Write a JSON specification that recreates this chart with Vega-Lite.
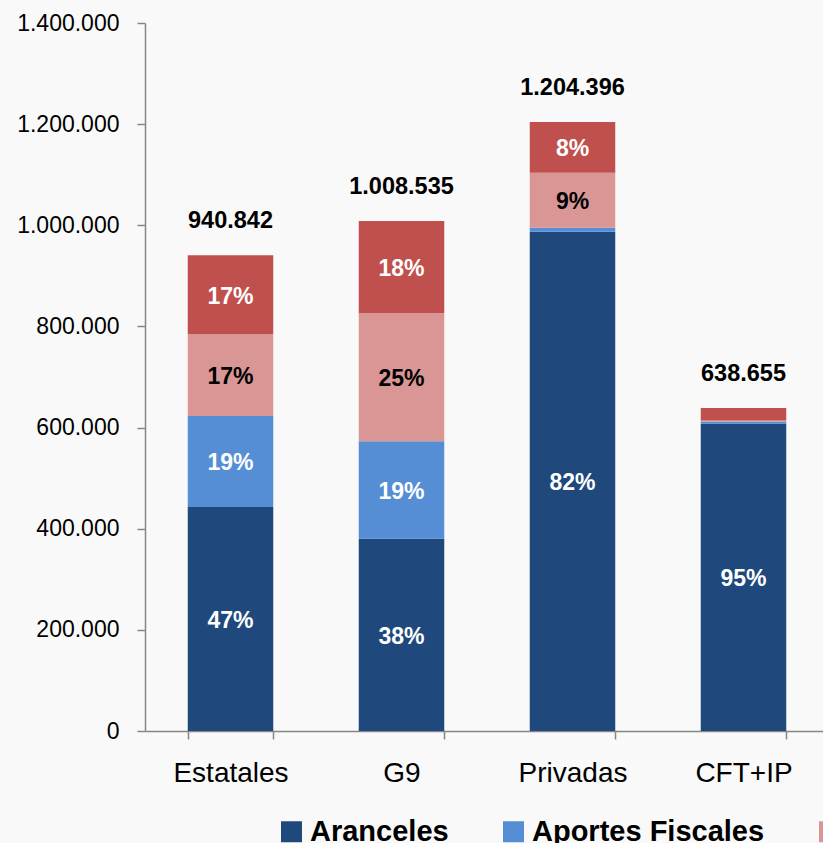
{
  "$schema": "https://vega.github.io/schema/vega-lite/v6.json",
  "usermeta": {"embedOptions": {"actions": false}},
  "width": 684,
  "height": 708,
  "autosize": {"type": "none"},
  "padding": {"left": 145, "top": 23, "right": -6, "bottom": 112},
  "background": "#f9f9f9",
  "config": {
    "view": {"stroke": null},
    "locale": {"number": {"decimal": ",", "thousands": ".", "grouping": [3], "currency": ["$", ""]}},
    "axis": {"labelFont": "Liberation Sans", "labelColor": "#000000", "domainColor": "#868686", "tickColor": "#868686", "domainWidth": 1.5, "tickWidth": 1.5, "grid": false},
    "text": {"font": "Liberation Sans"},
    "legend": {"labelFont": "Liberation Sans"}
  },
  "data": {
    "values": [
      {"category": "Estatales", "series": "Aranceles", "k": 1, "value": 443000, "pct": "47%"},
      {"category": "Estatales", "series": "Aportes Fiscales", "k": 2, "value": 180000, "pct": "19%"},
      {"category": "Estatales", "series": "Venta de Servicios", "k": 3, "value": 162000, "pct": "17%"},
      {"category": "Estatales", "series": "Otros Ingresos", "k": 4, "value": 155842, "pct": "17%"},
      {"category": "G9", "series": "Aranceles", "k": 1, "value": 380000, "pct": "38%"},
      {"category": "G9", "series": "Aportes Fiscales", "k": 2, "value": 193000, "pct": "19%"},
      {"category": "G9", "series": "Venta de Servicios", "k": 3, "value": 253000, "pct": "25%"},
      {"category": "G9", "series": "Otros Ingresos", "k": 4, "value": 182535, "pct": "18%"},
      {"category": "Privadas", "series": "Aranceles", "k": 1, "value": 987000, "pct": "82%"},
      {"category": "Privadas", "series": "Aportes Fiscales", "k": 2, "value": 8000, "pct": ""},
      {"category": "Privadas", "series": "Venta de Servicios", "k": 3, "value": 109000, "pct": "9%"},
      {"category": "Privadas", "series": "Otros Ingresos", "k": 4, "value": 100396, "pct": "8%"},
      {"category": "CFT+IP", "series": "Aranceles", "k": 1, "value": 608000, "pct": "95%"},
      {"category": "CFT+IP", "series": "Aportes Fiscales", "k": 2, "value": 4000, "pct": ""},
      {"category": "CFT+IP", "series": "Venta de Servicios", "k": 3, "value": 2000, "pct": ""},
      {"category": "CFT+IP", "series": "Otros Ingresos", "k": 4, "value": 24655, "pct": ""}
    ]
  },
  "transform": [
    {"stack": "value", "groupby": ["category"], "sort": [{"field": "k", "order": "ascending"}], "as": ["v0", "v1"]}
  ],
  "layer": [
    {
      "mark": {"type": "bar"},
      "encoding": {
        "x": {
          "field": "category", "type": "nominal", "title": null,
          "sort": ["Estatales", "G9", "Privadas", "CFT+IP"],
          "scale": {"paddingInner": 0.5, "paddingOuter": 0.25},
          "axis": {"labelAngle": 0, "labelFontSize": 28, "labelPadding": 20, "tickSize": 8, "tickBand": "extent", "labelBaseline": "top"}
        },
        "y": {
          "field": "v0", "type": "quantitative", "title": null,
          "scale": {"domain": [0, 1400000], "nice": false},
          "axis": {"values": [0, 200000, 400000, 600000, 800000, 1000000, 1200000, 1400000], "format": ",d", "labelFontSize": 23, "labelPadding": 18, "tickSize": 8}
        },
        "y2": {"field": "v1"},
        "color": {
          "field": "series", "type": "nominal",
          "scale": {"domain": ["Aranceles", "Aportes Fiscales", "Venta de Servicios", "Otros Ingresos"], "range": ["#1f497d", "#558ed5", "#d99694", "#c0504d"]},
          "legend": {"title": null, "orient": "none", "legendX": 132, "legendY": 794, "direction": "horizontal", "symbolType": "square", "symbolSize": 441, "symbolStrokeWidth": 0, "labelFontSize": 29, "labelFontWeight": "bold", "labelColor": "#000000", "labelOffset": 4, "columnPadding": 50, "padding": 0, "labelLimit": 0}
        }
      }
    },
    {
      "transform": [
        {"filter": "datum.pct != ''"},
        {"fold": ["v0", "v1"], "as": ["edge", "pos"]}
      ],
      "mark": {"type": "text", "fontSize": 23, "fontWeight": "bold", "baseline": "middle", "dy": 2},
      "encoding": {
        "x": {"field": "category", "type": "nominal", "title": null, "sort": ["Estatales", "G9", "Privadas", "CFT+IP"]},
        "y": {"aggregate": "mean", "field": "pos", "type": "quantitative", "stack": null, "title": null},
        "detail": {"field": "series", "type": "nominal"},
        "text": {"field": "pct", "type": "nominal"},
        "color": {"condition": {"test": "datum.series === 'Venta de Servicios'", "value": "#000000"}, "value": "#ffffff"}
      }
    },
    {
      "mark": {"type": "text", "fontSize": 23.5, "fontWeight": "bold", "baseline": "middle", "dy": -34, "color": "#000000"},
      "encoding": {
        "x": {"field": "category", "type": "nominal", "title": null, "sort": ["Estatales", "G9", "Privadas", "CFT+IP"]},
        "y": {"aggregate": "sum", "field": "value", "type": "quantitative", "stack": null, "title": null},
        "text": {"aggregate": "sum", "field": "value", "type": "quantitative", "format": ",d"}
      }
    }
  ]
}
